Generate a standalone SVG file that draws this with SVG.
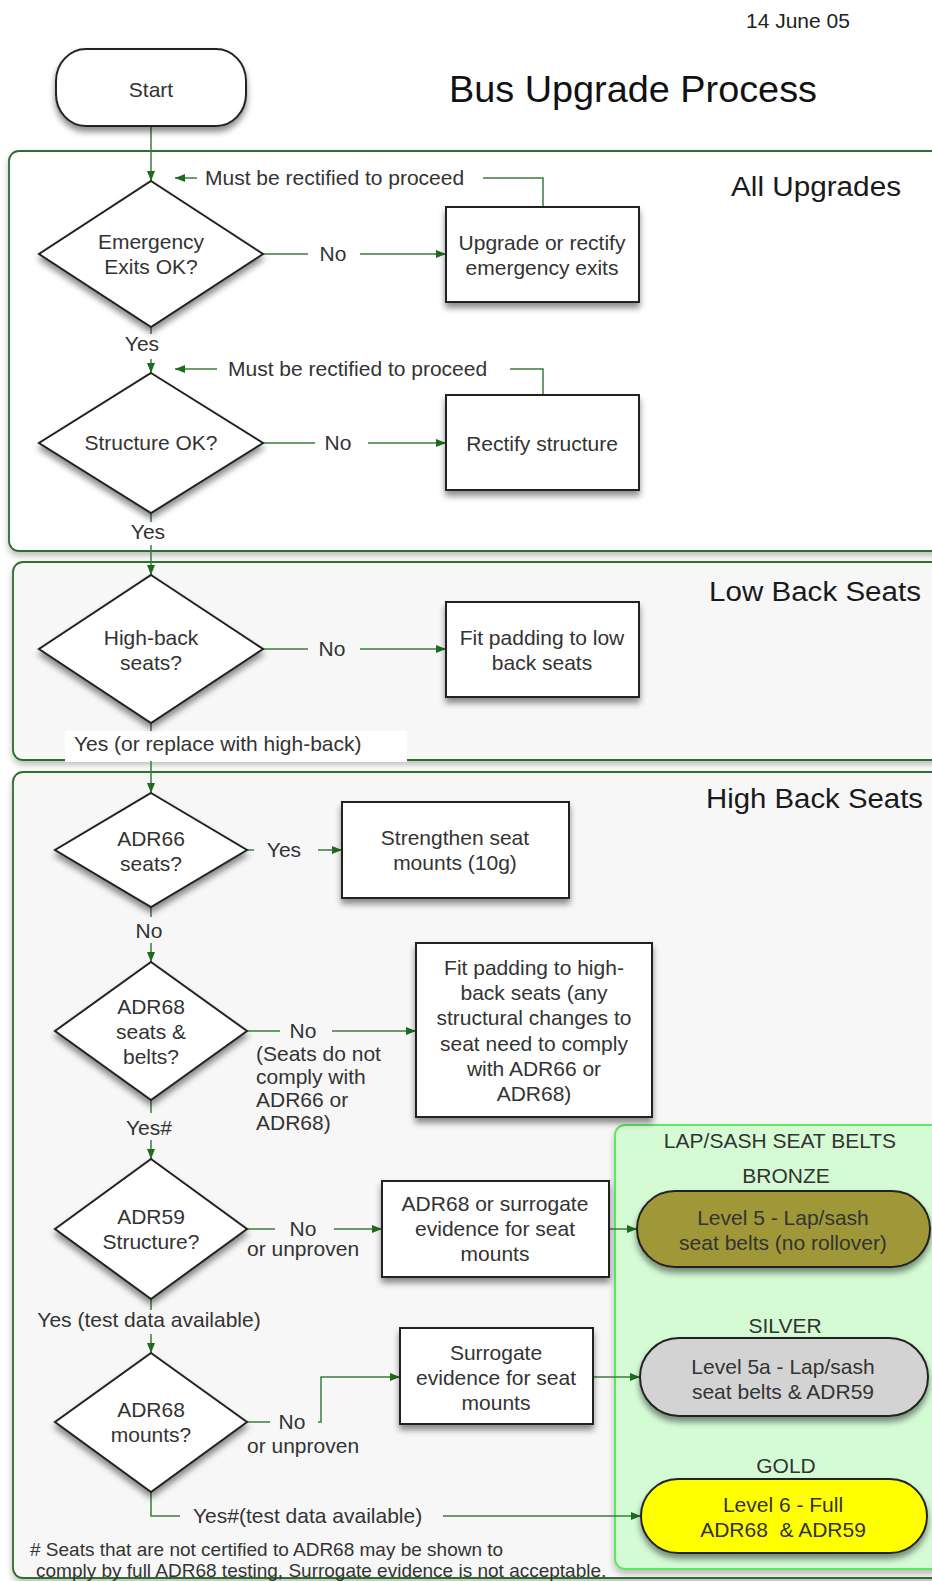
<svg xmlns="http://www.w3.org/2000/svg" width="932" height="1581" viewBox="0 0 932 1581">
<defs>
<style>
.t{font-family:"Liberation Sans",Arial,Helvetica,sans-serif;font-size:21px;fill:#333}
.m{text-anchor:middle}
.e{text-anchor:end}
.h{font-size:27px;fill:#1a1a1a}
.f{font-size:19px}
.node{fill:#fff;stroke:#222;stroke-width:2;filter:url(#sh)}
.sec{stroke:#2f6e2f;stroke-width:1.8;filter:url(#ssh)}
.c{fill:none;stroke:#3c7c3c;stroke-width:1.5}
.a{marker-end:url(#ah)}
.pill{stroke:#222;stroke-width:2;filter:url(#sh)}
</style>
<filter id="sh" x="-20%" y="-20%" width="140%" height="160%">
<feDropShadow dx="0" dy="5" stdDeviation="3" flood-color="#000" flood-opacity="0.45"/>
</filter>
<filter id="ssh" x="-5%" y="-5%" width="110%" height="115%">
<feDropShadow dx="0" dy="4" stdDeviation="3" flood-color="#000" flood-opacity="0.25"/>
</filter>
<marker id="ah" markerWidth="11" markerHeight="9" refX="10" refY="4.5" orient="auto" markerUnits="userSpaceOnUse">
<path d="M0,0.5 L10,4.5 L0,8.5 z" fill="#1e6a1e"/>
</marker>
</defs>
<rect width="932" height="1581" fill="#fff"/>

<g id="sections">
<rect id="sec-all" class="sec" x="9" y="151" width="940" height="400" rx="10" fill="#ffffff"/>
<rect id="sec-low" class="sec" x="13" y="562" width="936" height="198" rx="10" fill="#f7f7f7"/>
<rect id="sec-high" class="sec" x="13" y="772" width="936" height="806" rx="10" fill="#f7f7f7"/>
<text class="t h e" x="901" y="196" textLength="170" lengthAdjust="spacingAndGlyphs">All Upgrades</text>
<text class="t h e" x="921" y="601" textLength="212" lengthAdjust="spacingAndGlyphs">Low Back Seats</text>
<text class="t h e" x="923" y="808" textLength="217" lengthAdjust="spacingAndGlyphs">High Back Seats</text>
</g>

<g id="belts">
<rect x="615" y="1125" width="330" height="444" rx="10" fill="#d5fbd5" stroke="#5ee85e" stroke-width="2" filter="url(#ssh)"/>
<text class="t m" x="780" y="1148">LAP/SASH SEAT BELTS</text>
<text class="t m" x="786" y="1183">BRONZE</text>
<text class="t m" x="785" y="1333">SILVER</text>
<text class="t m" x="786" y="1473">GOLD</text>
</g>

<g id="title">
<text class="t" x="746" y="28" style="fill:#222">14 June 05</text>
<text class="t" x="449" y="102" style="font-size:36px;fill:#111" textLength="368" lengthAdjust="spacingAndGlyphs">Bus Upgrade Process</text>
</g>

<g id="connectors">
<path class="c a" d="M151,126 V181"/>
<path class="c" d="M543,207 V178 H483"/>
<path class="c a" d="M197,178 H175"/>
<text class="t" x="205" y="185">Must be rectified to proceed</text>
<path class="c" d="M263,254 H308"/>
<path class="c a" d="M360,254 H446"/>
<text class="t m" x="333" y="261">No</text>
<path class="c" d="M151,327 V334"/>
<text class="t m" x="142" y="351">Yes</text>
<path class="c a" d="M151,359 V373"/>
<path class="c" d="M543,395 V369 H510"/>
<path class="c a" d="M217,369 H175"/>
<text class="t" x="228" y="376">Must be rectified to proceed</text>
<path class="c" d="M263,443 H315"/>
<path class="c a" d="M368,443 H446"/>
<text class="t m" x="338" y="450">No</text>
<path class="c" d="M151,512 V522"/>
<text class="t m" x="148" y="539">Yes</text>
<path class="c a" d="M151,545 V575"/>
<path class="c" d="M263,649 H308"/>
<path class="c a" d="M360,649 H446"/>
<text class="t m" x="332" y="656">No</text>
<path class="c" d="M151,723 V733"/>
<rect x="65" y="731" width="342" height="31" fill="#fff"/>
<text class="t" x="74" y="751">Yes (or replace with high-back)</text>
<path class="c a" d="M151,761 V793"/>
<path class="c" d="M247,850 H254"/>
<path class="c a" d="M318,850 H342"/>
<text class="t m" x="284" y="857">Yes</text>
<path class="c" d="M151,907 V917"/>
<text class="t m" x="149" y="938">No</text>
<path class="c a" d="M151,943 V962"/>
<path class="c" d="M247,1031 H280"/>
<path class="c a" d="M332,1031 H416"/>
<text class="t m" x="303" y="1038">No</text>
<text class="t" x="256" y="1061">(Seats do not</text>
<text class="t" x="256" y="1084">comply with</text>
<text class="t" x="256" y="1107">ADR66 or</text>
<text class="t" x="256" y="1130">ADR68)</text>
<path class="c" d="M151,1100 V1113"/>
<text class="t m" x="149" y="1135">Yes#</text>
<path class="c a" d="M151,1140 V1159"/>
<path class="c" d="M247,1229 H275"/>
<path class="c a" d="M334,1229 H382"/>
<text class="t m" x="303" y="1236">No</text>
<text class="t" x="247" y="1256">or unproven</text>
<path class="c a" d="M609,1229 H637"/>
<path class="c" d="M151,1299 V1310"/>
<text class="t m" x="149" y="1327">Yes (test data available)</text>
<path class="c a" d="M151,1334 V1353"/>
<path class="c" d="M247,1422 H270"/>
<text class="t m" x="292" y="1429">No</text>
<text class="t" x="247" y="1453">or unproven</text>
<path class="c a" d="M318,1422 H321 V1377 H400"/>
<path class="c a" d="M593,1377 H640"/>
<path class="c" d="M151,1492 V1516 H180"/>
<text class="t" x="193" y="1523">Yes#(test data available)</text>
<path class="c a" d="M443,1516 H641"/>
</g>

<g id="start">
<rect class="node" x="56" y="49" width="190" height="77" rx="30" ry="32"/>
<text class="t m" x="151" y="97">Start</text>
</g>

<g id="emergency">
<path class="node" d="M151,181 L263,254 L151,327 L39,254 Z"/>
<text class="t m" x="151" y="249">Emergency</text>
<text class="t m" x="151" y="274">Exits OK?</text>
</g>
<g id="upgrade-exits">
<rect class="node" x="446" y="207" width="193" height="95"/>
<text class="t m" x="542" y="250">Upgrade or rectify</text>
<text class="t m" x="542" y="275">emergency exits</text>
</g>

<g id="structure">
<path class="node" d="M151,373 L263,443 L151,513 L39,443 Z"/>
<text class="t m" x="151" y="450">Structure OK?</text>
</g>
<g id="rectify-structure">
<rect class="node" x="446" y="395" width="193" height="95"/>
<text class="t m" x="542" y="451">Rectify structure</text>
</g>

<g id="high-back">
<path class="node" d="M151,575 L263,649 L151,723 L39,649 Z"/>
<text class="t m" x="151" y="645">High-back</text>
<text class="t m" x="151" y="670">seats?</text>
</g>
<g id="pad-low">
<rect class="node" x="446" y="602" width="193" height="95"/>
<text class="t m" x="542" y="645">Fit padding to low</text>
<text class="t m" x="542" y="670">back seats</text>
</g>

<g id="adr66">
<path class="node" d="M151,793 L247,850 L151,907 L55,850 Z"/>
<text class="t m" x="151" y="846">ADR66</text>
<text class="t m" x="151" y="871">seats?</text>
</g>
<g id="strengthen">
<rect class="node" x="342" y="802" width="227" height="96"/>
<text class="t m" x="455" y="845">Strengthen seat</text>
<text class="t m" x="455" y="870">mounts (10g)</text>
</g>

<g id="adr68-belts">
<path class="node" d="M151,962 L247,1031 L151,1100 L55,1031 Z"/>
<text class="t m" x="151" y="1014">ADR68</text>
<text class="t m" x="151" y="1039">seats &amp;</text>
<text class="t m" x="151" y="1064">belts?</text>
</g>
<g id="pad-high">
<rect class="node" x="416" y="943" width="236" height="174"/>
<text class="t m" x="534" y="975">Fit padding to high-</text>
<text class="t m" x="534" y="1000">back seats (any</text>
<text class="t m" x="534" y="1025">structural changes to</text>
<text class="t m" x="534" y="1051">seat need to comply</text>
<text class="t m" x="534" y="1076">with ADR66 or</text>
<text class="t m" x="534" y="1101">ADR68)</text>
</g>

<g id="adr59">
<path class="node" d="M151,1159 L247,1229 L151,1299 L55,1229 Z"/>
<text class="t m" x="151" y="1224">ADR59</text>
<text class="t m" x="151" y="1249">Structure?</text>
</g>
<g id="adr68-surrogate">
<rect class="node" x="382" y="1181" width="227" height="96"/>
<text class="t m" x="495" y="1211">ADR68 or surrogate</text>
<text class="t m" x="495" y="1236">evidence for seat</text>
<text class="t m" x="495" y="1261">mounts</text>
</g>

<g id="adr68-mounts">
<path class="node" d="M151,1353 L247,1422 L151,1492 L55,1422 Z"/>
<text class="t m" x="151" y="1417">ADR68</text>
<text class="t m" x="151" y="1442">mounts?</text>
</g>
<g id="surrogate">
<rect class="node" x="400" y="1328" width="193" height="96"/>
<text class="t m" x="496" y="1360">Surrogate</text>
<text class="t m" x="496" y="1385">evidence for seat</text>
<text class="t m" x="496" y="1410">mounts</text>
</g>

<g id="bronze">
<rect class="pill" x="637" y="1191" width="293" height="76" rx="38" fill="#a09838"/>
<text class="t m" x="783" y="1225">Level 5 - Lap/sash</text>
<text class="t m" x="783" y="1250">seat belts (no rollover)</text>
</g>
<g id="silver">
<rect class="pill" x="640" y="1338" width="288" height="78" rx="39" fill="#d3d3d3"/>
<text class="t m" x="783" y="1374">Level 5a - Lap/sash</text>
<text class="t m" x="783" y="1399">seat belts &amp; ADR59</text>
</g>
<g id="gold">
<rect class="pill" x="641" y="1479" width="286" height="74" rx="37" fill="#ffff00"/>
<text class="t m" x="783" y="1512">Level 6 - Full</text>
<text class="t m" x="783" y="1537" xml:space="preserve">ADR68  &amp; ADR59</text>
</g>

<g id="footnote">
<text class="t f" x="30" y="1556"># Seats that are not certified to ADR68 may be shown to</text>
<text class="t f" x="36" y="1577">comply by full ADR68 testing, Surrogate evidence is not acceptable.</text>
</g>
</svg>
